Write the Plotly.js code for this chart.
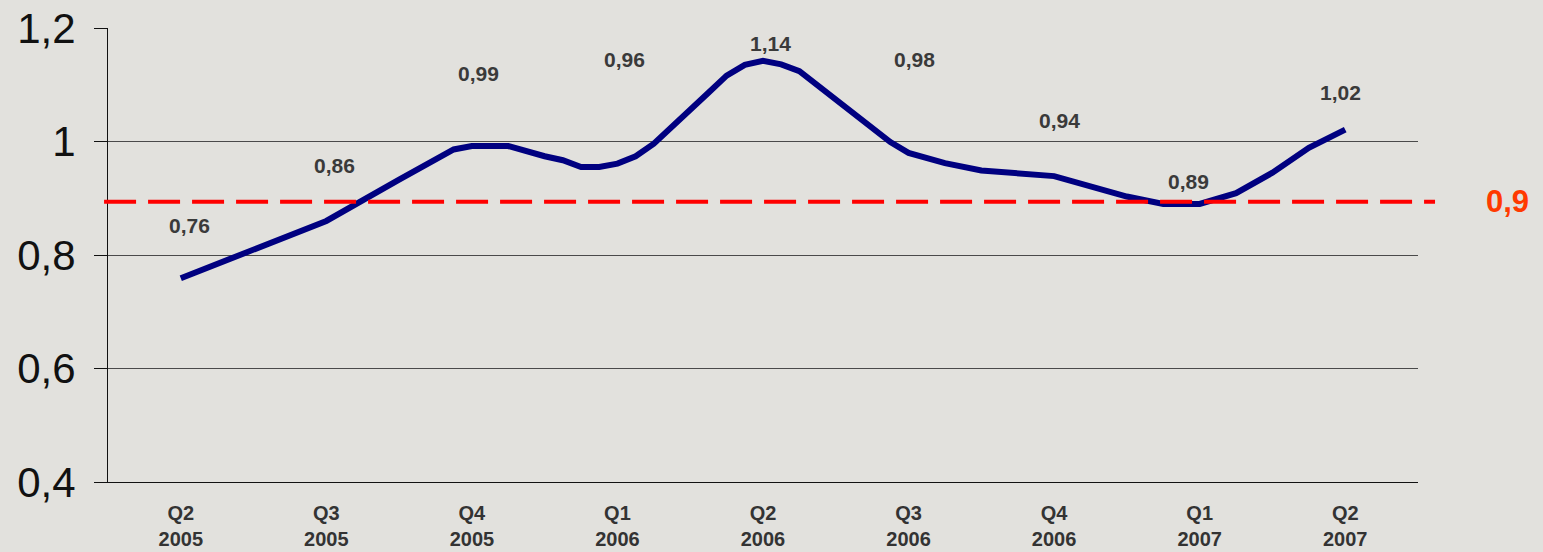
<!DOCTYPE html>
<html>
<head>
<meta charset="utf-8">
<script src="https://cdn.plot.ly/plotly-3.0.1.min.js"></script>
<style>
html,body{margin:0;padding:0;background:#e2e1dd;}
#chart{width:1543px;height:552px;}
</style>
</head>
<body>
<div id="chart"></div>
<script>
// Quarter categories (tick labels)
const quarters = ["Q2<br>2005","Q3<br>2005","Q4<br>2005","Q1<br>2006","Q2<br>2006","Q3<br>2006","Q4<br>2006","Q1<br>2007","Q2<br>2007"];
// Quarterly labelled values
const quarterValues = [0.76, 0.86, 0.99, 0.96, 1.14, 0.98, 0.94, 0.89, 1.02];
// Vertical position of each value label (in axis units)
const labelLevels = [0.852, 0.958, 1.120, 1.145, 1.173, 1.145, 1.037, 0.930, 1.087];
const labelShiftPx = [9, 8, 7, 7, 7, 6, 5, -11, -5];
// Detailed line (x in quarters since Q2 2005)
const lineX = [0, 1, 1.5, 1.875, 2, 2.25, 2.5, 2.625, 2.75, 2.875, 3, 3.125, 3.25, 3.5, 3.625, 3.75, 3.875, 4, 4.125, 4.25, 4.75, 4.875, 5, 5.25, 5.5, 6, 6.5, 6.75, 7, 7.25, 7.5, 7.75, 8];
const lineY = [0.759, 0.860, 0.933, 0.986, 0.992, 0.992, 0.974, 0.967, 0.955, 0.955, 0.961, 0.974, 0.996, 1.058, 1.086, 1.116, 1.135, 1.142, 1.136, 1.124, 1.022, 0.999, 0.980, 0.962, 0.949, 0.939, 0.903, 0.890, 0.890, 0.909, 0.945, 0.989, 1.021];
// Threshold
const threshold = 0.894;
const thresholdLabel = "0,9";
const yTicks = [0.4, 0.6, 0.8, 1.0, 1.2];
const yTickText = ["0,4", "0,6", "0,8", "1", "1,2"];

const fmt = v => v.toFixed(2).replace('.', ',');

const traces = [
  {
    x: lineX, y: lineY, type: 'scatter', mode: 'lines',
    line: {color: '#000080', width: 6},
    hoverinfo: 'skip', showlegend: false
  }
];

const annotations = quarterValues.map((v, i) => ({
  x: i, y: labelLevels[i], xref: 'x', yref: 'y',
  text: fmt(v), showarrow: false, xshift: labelShiftPx[i],
  font: {family: 'Liberation Sans, Arial, sans-serif', size: 21, color: '#3a3a3a', weight: 'bold'},
  xanchor: 'center', yanchor: 'middle'
}));
annotations.push({
  x: 1.068, xref: 'paper', y: threshold, yref: 'y',
  text: '<b>' + thresholdLabel + '</b>', showarrow: false,
  font: {family: 'Liberation Sans, Arial, sans-serif', size: 31, color: '#ff3a00'},
  xanchor: 'center', yanchor: 'middle'
});

const layout = {
  width: 1543, height: 552,
  paper_bgcolor: '#e2e1dd', plot_bgcolor: '#e2e1dd',
  margin: {l: 108, r: 125, t: 28, b: 70},
  showlegend: false,
  font: {family: 'Liberation Sans, Arial, sans-serif'},
  xaxis: {
    range: [-0.5, 8.5], tickmode: 'array', tickvals: quarters.map((q, i) => i), ticktext: quarters.map(q => '<b>' + q + '</b>'),
    showgrid: false, zeroline: false, showline: true, linecolor: '#111', linewidth: 1,
    ticks: '', tickfont: {size: 20, color: '#333'}, ticklabelstandoff: 13, fixedrange: true
  },
  yaxis: {
    range: [0.4, 1.2], tickmode: 'array', tickvals: yTicks, ticktext: yTickText,
    showgrid: true, gridcolor: '#4a4a4a', gridwidth: 1, zeroline: false,
    showline: true, linecolor: '#111', linewidth: 1,
    ticks: 'outside', ticklen: 13, tickcolor: '#111', tickwidth: 1,
    tickfont: {size: 42, color: '#111'}, ticklabelstandoff: 10, fixedrange: true
  },
  shapes: [{
    type: 'line', xref: 'paper', x0: -0.003, x1: 1.013, yref: 'y', y0: threshold, y1: threshold,
    line: {color: '#ff0000', width: 4, dash: '32px,12px'}
  }],
  annotations: annotations
};

Plotly.newPlot('chart', traces, layout, {displayModeBar: false, staticPlot: true});
</script>
</body>
</html>
